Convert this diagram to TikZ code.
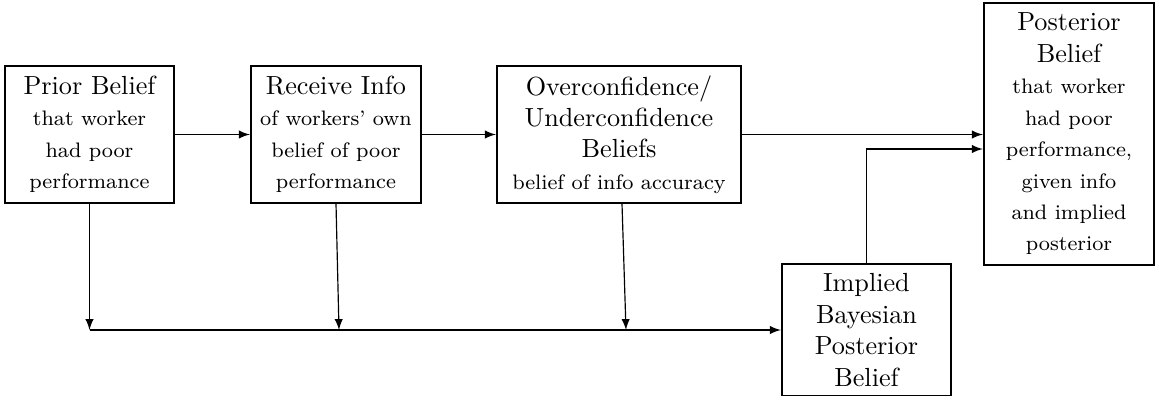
\documentclass[tikz,border=0pt]{standalone}
\usetikzlibrary{arrows,calc}
\begin{document}
\begin{tikzpicture}[x=0.3817pt,y=-0.3817pt,
  box/.style={draw,line width=0.9pt,align=center,inner sep=0pt,font=\normalsize},
  arr/.style={-latex,line width=0.45pt}]
\useasboundingbox (0,0) rectangle (1156,395);
\newcommand{\sm}[1]{{\footnotesize #1}}
\node[box,minimum width=64.5pt,minimum height=52.3pt] (prior) at (89.5,134.5)
  {Prior Belief\\\sm{that worker}\\\sm{had poor}\\\sm{performance}};
\node[box,minimum width=64.9pt,minimum height=52.3pt] (receive) at (336,134.5)
  {Receive Info\\\sm{of workers' own}\\\sm{belief of poor}\\\sm{performance}};
\node[box,minimum width=93.1pt,minimum height=52.3pt] (over) at (619,134.5)
  {Overconfidence/\\Underconfidence\\Beliefs\\\sm{belief of info accuracy}};
\node[box,minimum width=64.9pt,minimum height=100pt] (post) at (1069,134)
  {Posterior\\Belief\\\sm{that worker}\\\sm{had poor}\\\sm{performance,}\\\sm{given info}\\\sm{and implied}\\\sm{posterior}};
\node[box,minimum width=64.5pt,minimum height=50.4pt] (impl) at (866.5,330)
  {Implied\\Bayesian\\Posterior\\Belief};
\coordinate (pin) at ($(post.west)+(0,15)$);
\coordinate (rtop) at (336,203.5);
\coordinate (rbot) at (339,330);
\coordinate (otop) at (622,203.5);
\coordinate (obot) at (626,330);
\draw[arr] (prior) -- (receive);
\draw[arr] (receive) -- (over);
\draw[arr] (over.east) -- (post.west |- over.east);
\draw[arr] (impl.north) |- (pin);
\draw[arr] (prior.south) -- (prior.south |- impl.west);
\draw[arr] (rtop) -- (rbot);
\draw[arr] (otop) -- (obot);
\draw[arr] (prior.south |- impl.west) -- (impl.west);
\end{tikzpicture}
\end{document}
